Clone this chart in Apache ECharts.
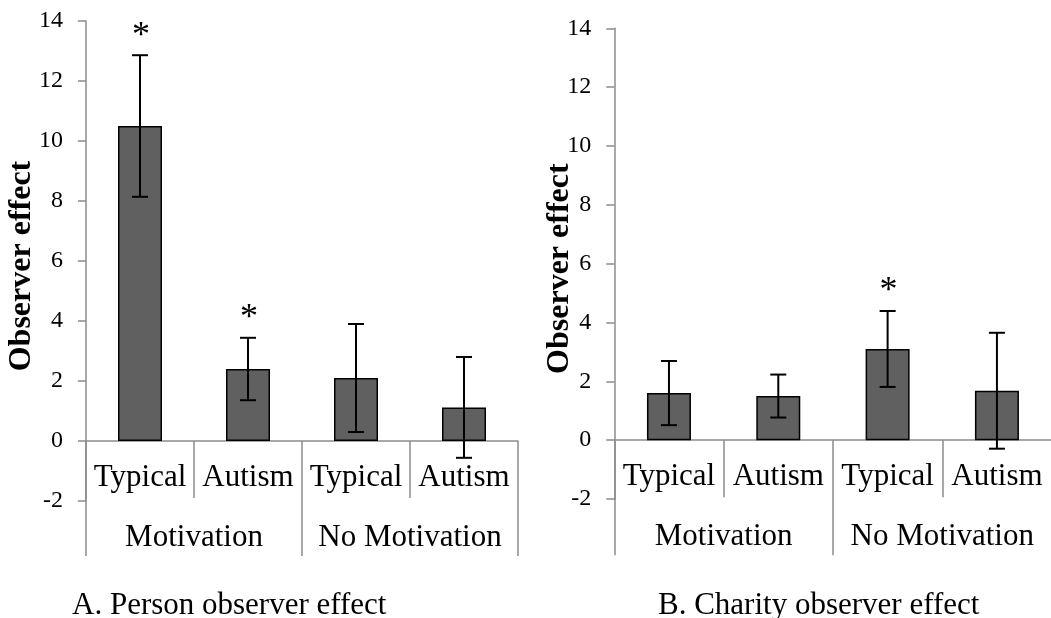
<!DOCTYPE html>
<html>
<head>
<meta charset="utf-8">
<script src="https://cdn.jsdelivr.net/npm/echarts@6/dist/echarts.min.js"></script>
<style>
  html, body { margin: 0; padding: 0; background: #fff; }
  #chart { width: 1051px; height: 618px; }
</style>
</head>
<body>
<div id="chart"></div>
<script>
// Group labels (two-level category axis)
const groupLabels = ['Typical', 'Autism', 'Typical', 'Autism'];
const conditionLabels = ['Motivation', 'No Motivation'];

// Panel A: person observer effect
const personMeans = [10.5, 2.4, 2.1, 1.12];
const personErrors = [2.36, 1.04, 1.8, 1.68];
const personSignificant = [true, true, false, false];

// Panel B: charity observer effect
const charityMeans = [1.6, 1.5, 3.1, 1.68];
const charityErrors = [1.09, 0.73, 1.29, 1.97];
const charitySignificant = [false, false, true, false];

// Value axis range
const yMin = -2, yMax = 14, yStep = 2;

const FONT = '"Liberation Serif", "Times New Roman", serif';
const AXIS_GRAY = '#8c8c8c';

const grids = [
  { left: 86, top: 21, width: 432, height: 480 },
  { left: 614.3, top: 28.3, width: 437.3, height: 470.7 }
];

function zeroOffset(g) {
  // distance (negative = upward) from grid bottom to the zero line
  return -g.height * (0 - yMin) / (yMax - yMin);
}

function errorData(means, errs, sig) {
  return means.map((m, i) => [i, m - errs[i], m + errs[i], sig[i] ? 1 : 0]);
}

function renderError(params, api) {
  const x = api.value(0);
  const lo = api.value(1);
  const hi = api.value(2);
  const pHi = api.coord([x, hi]);
  const pLo = api.coord([x, lo]);
  const cap = 8;
  const st = { stroke: '#000', lineWidth: 2 };
  const children = [
    { type: 'line', shape: { x1: pHi[0], y1: pHi[1], x2: pLo[0], y2: pLo[1] }, style: st },
    { type: 'line', shape: { x1: pHi[0] - cap, y1: pHi[1], x2: pHi[0] + cap, y2: pHi[1] }, style: st },
    { type: 'line', shape: { x1: pLo[0] - cap, y1: pLo[1], x2: pLo[0] + cap, y2: pLo[1] }, style: st }
  ];
  if (api.value(3)) {
    // significance marker above the upper whisker
    children.push({
      type: 'text',
      x: pHi[0] + 1,
      y: pHi[1] - 19,
      style: { text: '*', font: '36px ' + FONT, fill: '#000', align: 'center', verticalAlign: 'middle' }
    });
  }
  return { type: 'group', children };
}

function yAxisFor(idx, gap) {
  return {
    gridIndex: idx,
    type: 'value',
    min: yMin, max: yMax, interval: yStep,
    name: 'Observer effect',
    nameLocation: 'middle',
    nameGap: gap,
    nameMoveOverlap: false,
    nameTextStyle: { fontFamily: FONT, fontSize: 32, fontWeight: 'bold', color: '#000', padding: [0, 10, 0, 0] },
    axisLine: { show: true, lineStyle: { color: AXIS_GRAY, width: 1.5 } },
    axisTick: { show: true, length: 8, lineStyle: { color: AXIS_GRAY, width: 1.5 } },
    axisLabel: { fontFamily: FONT, fontSize: 24, color: '#000', margin: 23 },
    splitLine: { show: false }
  };
}

function xAxesFor(idx) {
  const off = zeroOffset(grids[idx]);
  return [
    {
      gridIndex: idx,
      type: 'category',
      data: groupLabels,
      position: 'bottom',
      offset: off,
      axisLine: { show: true, onZero: false, lineStyle: { color: AXIS_GRAY, width: 1.5 } },
      axisTick: { show: true, length: 57, interval: 0, alignWithLabel: false, lineStyle: { color: AXIS_GRAY, width: 1.5 } },
      axisLabel: { fontFamily: FONT, fontSize: 31, color: '#000', margin: 21, interval: 0 },
      splitLine: { show: false }
    },
    {
      gridIndex: idx,
      type: 'category',
      data: conditionLabels,
      position: 'bottom',
      offset: off,
      axisLine: { show: false, onZero: false },
      axisTick: { show: true, length: 115, interval: 0, alignWithLabel: false, lineStyle: { color: AXIS_GRAY, width: 1.5 } },
      axisLabel: { fontFamily: FONT, fontSize: 31, color: '#000', margin: 81, interval: 0 },
      splitLine: { show: false }
    }
  ];
}

const barStyle = { color: '#606060', borderColor: '#000', borderWidth: 1.5 };

const option = {
  animation: false,
  backgroundColor: '#fff',
  title: [
    { text: 'A. Person observer effect', left: 72, top: 590, padding: 0,
      textStyle: { fontFamily: FONT, fontSize: 31, fontWeight: 'normal', color: '#000' } },
    { text: 'B. Charity observer effect', left: 658, top: 590, padding: 0,
      textStyle: { fontFamily: FONT, fontSize: 31, fontWeight: 'normal', color: '#000' } }
  ],
  grid: grids.map(g => Object.assign({ containLabel: false, outerBoundsMode: 'none' }, g)),
  xAxis: [...xAxesFor(0), ...xAxesFor(1)],
  yAxis: [yAxisFor(0, 48), yAxisFor(1, 39)],
  series: [
    { type: 'bar', xAxisIndex: 0, yAxisIndex: 0, data: personMeans, barWidth: 44, itemStyle: barStyle },
    { type: 'custom', xAxisIndex: 0, yAxisIndex: 0, data: errorData(personMeans, personErrors, personSignificant),
      renderItem: renderError, z: 5 },
    { type: 'bar', xAxisIndex: 2, yAxisIndex: 1, data: charityMeans, barWidth: 44, itemStyle: barStyle },
    { type: 'custom', xAxisIndex: 2, yAxisIndex: 1, data: errorData(charityMeans, charityErrors, charitySignificant),
      renderItem: renderError, z: 5 }
  ]
};

const chart = echarts.init(document.getElementById('chart'), null, { renderer: 'canvas' });
chart.setOption(option);
</script>
</body>
</html>
